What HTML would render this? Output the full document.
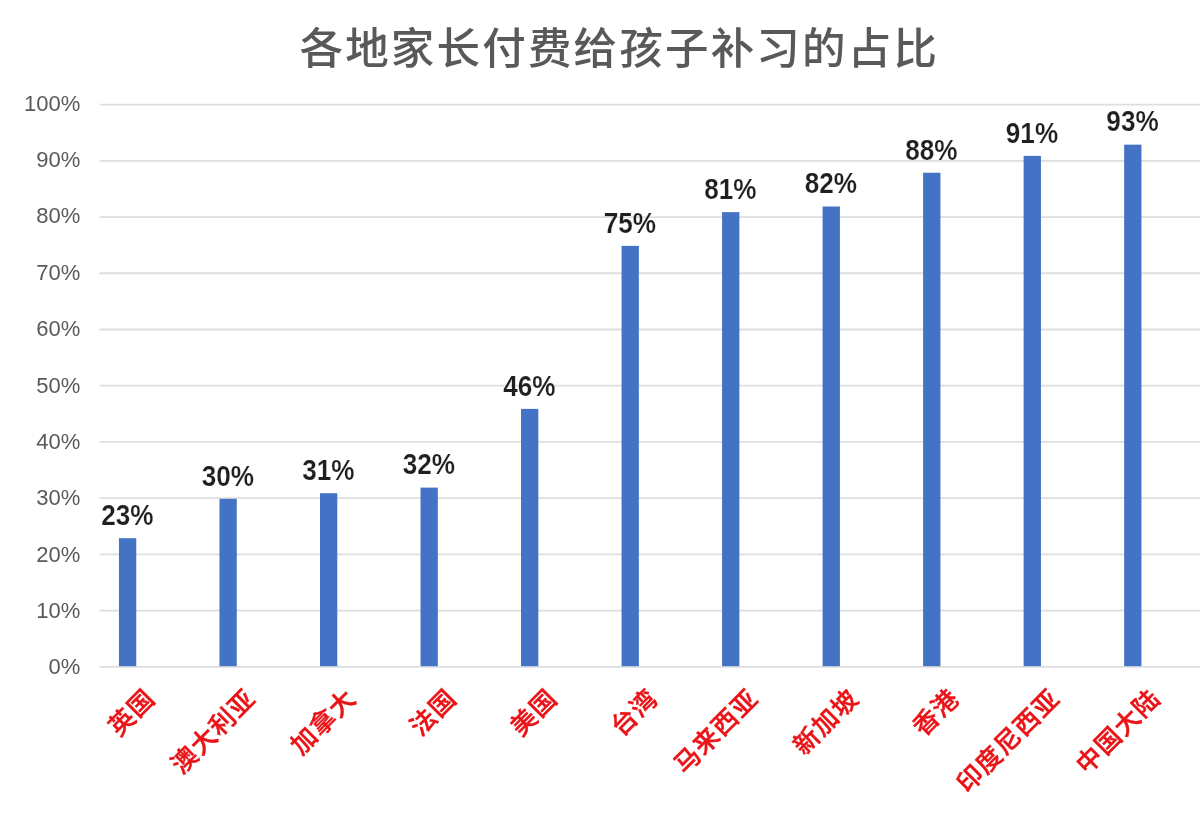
<!DOCTYPE html>
<html lang="zh-CN">
<head>
<meta charset="utf-8">
<title>各地家长付费给孩子补习的占比</title>
<style>
html,body{margin:0;padding:0;background:#fff;}
body{width:1200px;height:822px;overflow:hidden;font-family:"Liberation Sans","Noto Sans CJK SC",sans-serif;}
svg{display:block;}
.title{font-family:"Liberation Sans","Noto Sans CJK SC",sans-serif;font-size:43.5px;fill:#595959;letter-spacing:2.19px;font-weight:500;}
.ax{font-family:"Liberation Sans",sans-serif;font-size:22px;fill:#595959;}
.dl{font-family:"Liberation Sans",sans-serif;font-size:29.2px;font-weight:700;fill:#1f1f1f;stroke:#fff;stroke-width:0.2px;stroke-linejoin:round;}
.cat{font-family:"Liberation Sans","Noto Sans CJK SC",sans-serif;font-size:25.4px;font-weight:500;fill:#ea1216;stroke:#ea1216;stroke-width:0.45px;letter-spacing:1.25px;}
</style>
</head>
<body>
<svg width="1200" height="822" viewBox="0 0 1200 822">
<rect x="0" y="0" width="1200" height="822" fill="#ffffff"/>
<text class="title" x="619.3" y="64" text-anchor="middle">各地家长付费给孩子补习的占比</text>
<line x1="99.5" x2="1200" y1="666.80" y2="666.80" stroke="#dedede" stroke-width="1.8"/>
<text class="ax" x="80.4" y="674.30" text-anchor="end">0%</text>
<line x1="99.5" x2="1200" y1="610.58" y2="610.58" stroke="#dedede" stroke-width="1.8"/>
<text class="ax" x="80.4" y="617.94" text-anchor="end">10%</text>
<line x1="99.5" x2="1200" y1="554.36" y2="554.36" stroke="#dedede" stroke-width="1.8"/>
<text class="ax" x="80.4" y="561.58" text-anchor="end">20%</text>
<line x1="99.5" x2="1200" y1="498.14" y2="498.14" stroke="#dedede" stroke-width="1.8"/>
<text class="ax" x="80.4" y="505.22" text-anchor="end">30%</text>
<line x1="99.5" x2="1200" y1="441.92" y2="441.92" stroke="#dedede" stroke-width="1.8"/>
<text class="ax" x="80.4" y="448.86" text-anchor="end">40%</text>
<line x1="99.5" x2="1200" y1="385.70" y2="385.70" stroke="#dedede" stroke-width="1.8"/>
<text class="ax" x="80.4" y="392.50" text-anchor="end">50%</text>
<line x1="99.5" x2="1200" y1="329.48" y2="329.48" stroke="#dedede" stroke-width="1.8"/>
<text class="ax" x="80.4" y="336.14" text-anchor="end">60%</text>
<line x1="99.5" x2="1200" y1="273.26" y2="273.26" stroke="#dedede" stroke-width="1.8"/>
<text class="ax" x="80.4" y="279.78" text-anchor="end">70%</text>
<line x1="99.5" x2="1200" y1="217.04" y2="217.04" stroke="#dedede" stroke-width="1.8"/>
<text class="ax" x="80.4" y="223.42" text-anchor="end">80%</text>
<line x1="99.5" x2="1200" y1="160.82" y2="160.82" stroke="#dedede" stroke-width="1.8"/>
<text class="ax" x="80.4" y="167.06" text-anchor="end">90%</text>
<line x1="99.5" x2="1200" y1="104.60" y2="104.60" stroke="#dedede" stroke-width="1.8"/>
<text class="ax" x="80.4" y="110.70" text-anchor="end">100%</text>
<rect x="118.95" y="538.19" width="17.3" height="128.01" fill="#4472c4"/>
<text class="dl" x="127.30" y="524.99" text-anchor="middle" textLength="52.3" lengthAdjust="spacingAndGlyphs">23%</text>
<text class="cat" transform="translate(156.90,699.80) rotate(-45)" text-anchor="end">英国</text>
<rect x="219.47" y="498.84" width="17.3" height="167.36" fill="#4472c4"/>
<text class="dl" x="227.82" y="485.64" text-anchor="middle" textLength="52.3" lengthAdjust="spacingAndGlyphs">30%</text>
<text class="cat" transform="translate(257.42,699.80) rotate(-45)" text-anchor="end">澳大利亚</text>
<rect x="319.99" y="493.22" width="17.3" height="172.98" fill="#4472c4"/>
<text class="dl" x="328.34" y="480.02" text-anchor="middle" textLength="52.3" lengthAdjust="spacingAndGlyphs">31%</text>
<text class="cat" transform="translate(357.94,699.80) rotate(-45)" text-anchor="end">加拿大</text>
<rect x="420.51" y="487.60" width="17.3" height="178.60" fill="#4472c4"/>
<text class="dl" x="428.86" y="474.40" text-anchor="middle" textLength="52.3" lengthAdjust="spacingAndGlyphs">32%</text>
<text class="cat" transform="translate(458.46,699.80) rotate(-45)" text-anchor="end">法国</text>
<rect x="521.03" y="408.89" width="17.3" height="257.31" fill="#4472c4"/>
<text class="dl" x="529.38" y="395.69" text-anchor="middle" textLength="52.3" lengthAdjust="spacingAndGlyphs">46%</text>
<text class="cat" transform="translate(558.98,699.80) rotate(-45)" text-anchor="end">美国</text>
<rect x="621.55" y="245.85" width="17.3" height="420.35" fill="#4472c4"/>
<text class="dl" x="629.90" y="232.65" text-anchor="middle" textLength="52.3" lengthAdjust="spacingAndGlyphs">75%</text>
<text class="cat" transform="translate(659.50,699.80) rotate(-45)" text-anchor="end">台湾</text>
<rect x="722.07" y="212.12" width="17.3" height="454.08" fill="#4472c4"/>
<text class="dl" x="730.42" y="198.92" text-anchor="middle" textLength="52.3" lengthAdjust="spacingAndGlyphs">81%</text>
<text class="cat" transform="translate(760.02,699.80) rotate(-45)" text-anchor="end">马来西亚</text>
<rect x="822.59" y="206.50" width="17.3" height="459.70" fill="#4472c4"/>
<text class="dl" x="830.94" y="193.30" text-anchor="middle" textLength="52.3" lengthAdjust="spacingAndGlyphs">82%</text>
<text class="cat" transform="translate(860.54,699.80) rotate(-45)" text-anchor="end">新加坡</text>
<rect x="923.11" y="172.76" width="17.3" height="493.44" fill="#4472c4"/>
<text class="dl" x="931.46" y="159.56" text-anchor="middle" textLength="52.3" lengthAdjust="spacingAndGlyphs">88%</text>
<text class="cat" transform="translate(961.06,699.80) rotate(-45)" text-anchor="end">香港</text>
<rect x="1023.63" y="155.90" width="17.3" height="510.30" fill="#4472c4"/>
<text class="dl" x="1031.98" y="142.70" text-anchor="middle" textLength="52.3" lengthAdjust="spacingAndGlyphs">91%</text>
<text class="cat" transform="translate(1061.58,699.80) rotate(-45)" text-anchor="end">印度尼西亚</text>
<rect x="1124.15" y="144.65" width="17.3" height="521.55" fill="#4472c4"/>
<text class="dl" x="1132.50" y="131.45" text-anchor="middle" textLength="52.3" lengthAdjust="spacingAndGlyphs">93%</text>
<text class="cat" transform="translate(1162.10,699.80) rotate(-45)" text-anchor="end">中国大陆</text>
</svg>
</body>
</html>
